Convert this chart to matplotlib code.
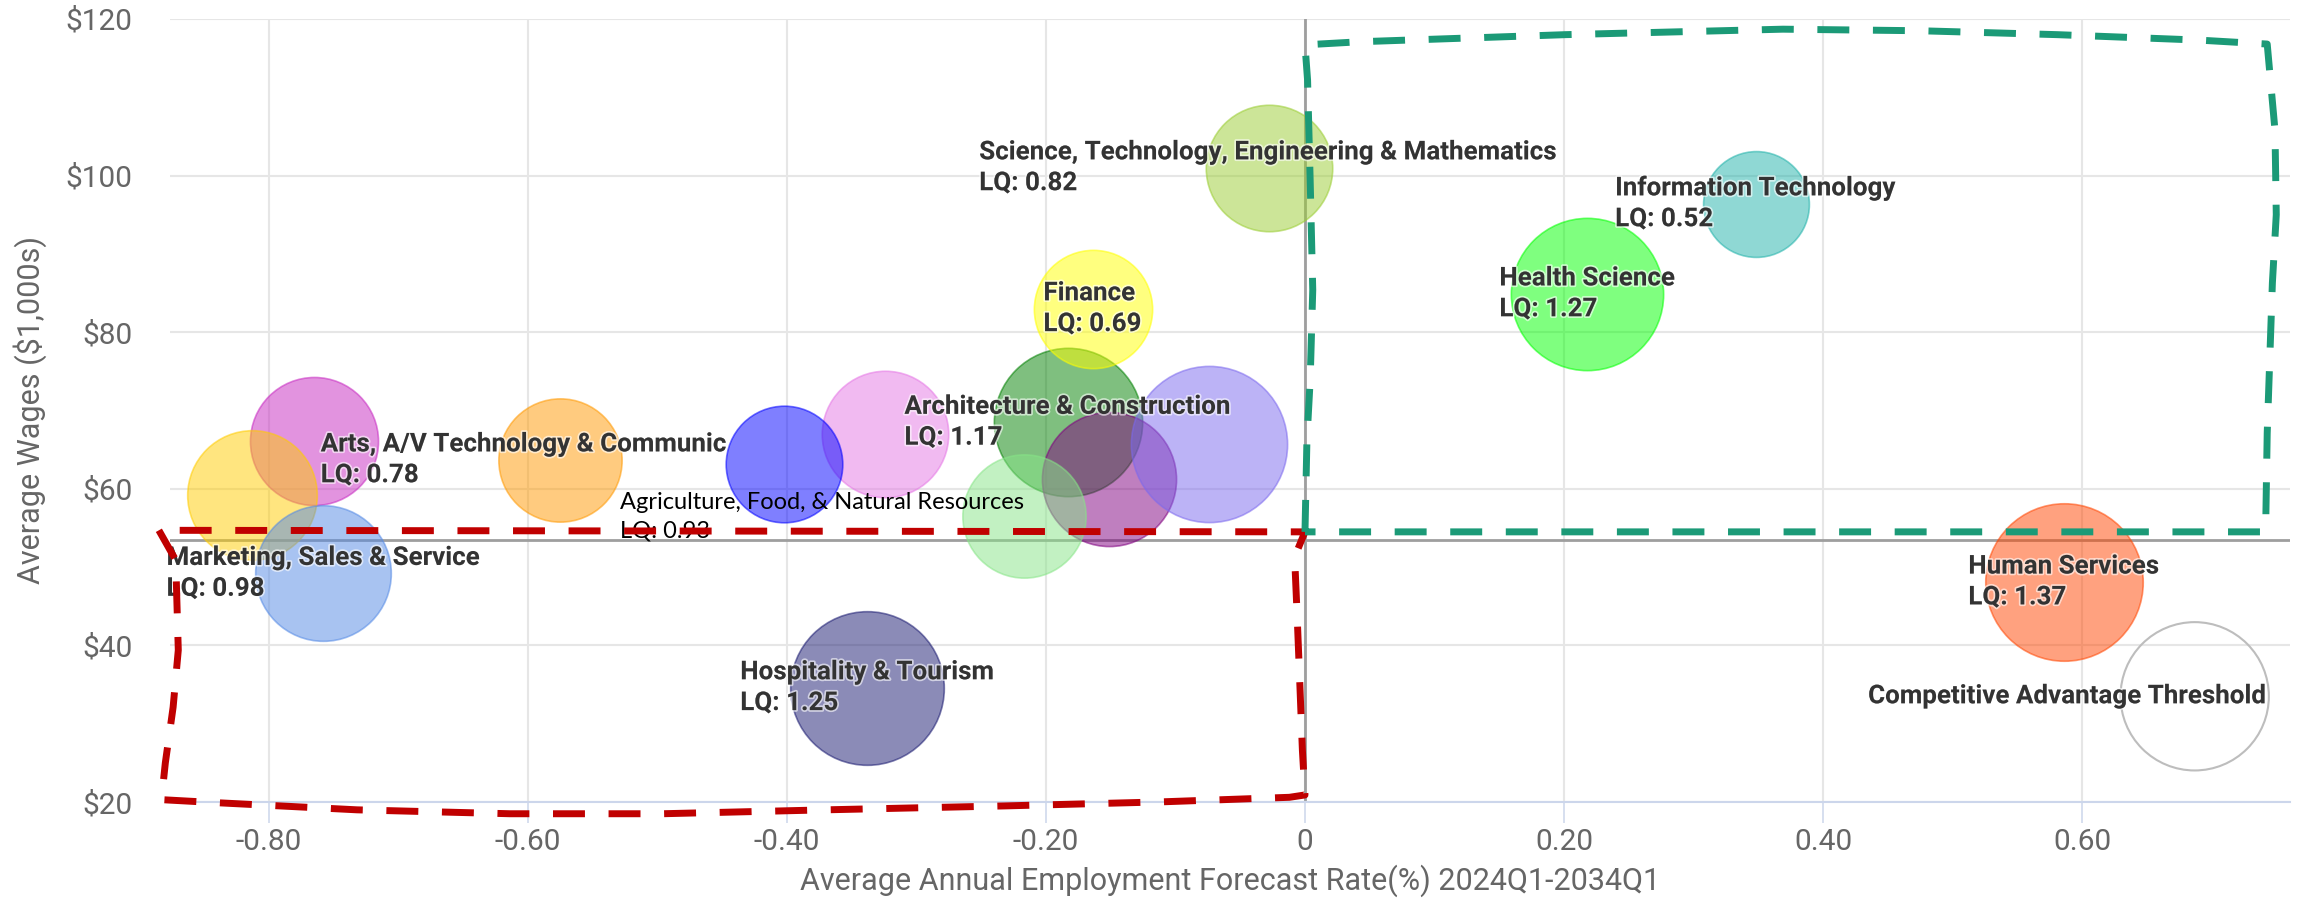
import numpy as np
import matplotlib
matplotlib.use("Agg")
import matplotlib.pyplot as plt
import matplotlib.patheffects as pe
from matplotlib.colors import to_rgba
from matplotlib.patches import Rectangle
from matplotlib.transforms import IdentityTransform

# Bubble data
growth = [-0.765, -0.813, -0.758, -0.575, -0.324, -0.402, -0.183, -0.164,
          -0.151, -0.217, -0.074, -0.028, -0.338, 0.218, 0.348, 0.586, 0.687]
wages = [66.1, 59.2, 49.2, 63.7, 67.0, 63.2, 68.5, 83.0,
         61.3, 56.5, 65.7, 101.0, 34.6, 84.9, 96.4, 48.1, 33.5]
bubble_z = [41, 42, 46, 38, 40, 34, 55, 35, 45, 38, 61, 40, 59, 58, 28, 62, 55]
names = ["", "", "Marketing, Sales & Service",
         "Arts, A/V Technology & Communications", "", "",
         "Architecture & Construction", "Finance", "", "", "",
         "Science, Technology, Engineering & Mathematics",
         "Hospitality & Tourism", "Health Science", "Information Technology",
         "Human Services", "Competitive Advantage Threshold"]
lq = [None, None, 0.98, 0.78, None, None, 1.17, 0.69, None, None, None,
      0.82, 1.25, 1.27, 0.52, 1.37, None]
colors = ["#C729C1", "#FFCC00", "#5389E5", "#FF9900", "#E577E5", "#0000FF",
          "#008000", "#FFFF00", "#800080", "#87E587", "#7B68EE", "#9ACD32",
          "#191970", "#00FF00", "#20B2AA", "#FF4500", None]

# reference lines
avg_wage = 53.46
zero_growth = 0.0

# hand-drawn highlight boxes
red_box_x = [-0.885, -0.872, -0.870, -0.874, -0.880, -0.883, -0.839, -0.732,
             -0.614, -0.496, -0.370, -0.232, -0.114, -0.012, 0.0, -0.002,
             -0.004, -0.006, -0.008, 0.0, -0.885]
red_box_y = [54.7, 50.9, 39.4, 32.1, 25.0, 20.3, 19.9, 19.0, 18.5, 18.5, 19.0,
             19.5, 20.0, 20.6, 20.9, 26.6, 35.2, 43.6, 51.3, 54.5, 54.7]
green_box_x = [0.0, 0.0015, 0.004, 0.006, 0.004, 0.002, 0.0, 0.043, 0.201,
               0.369, 0.475, 0.581, 0.691, 0.743, 0.749, 0.750, 0.747, 0.743,
               0.742, 0.742, 0.0]
green_box_y = [54.5, 66.2, 73.9, 85.4, 99.4, 112.2, 116.7, 117.1, 118.0,
               118.7, 118.5, 118.0, 117.3, 116.8, 105.8, 95.0, 86.3, 67.1,
               56.9, 54.5, 54.5]

agri_text = "Agriculture, Food, & Natural Resources\nLQ: 0.93"
agri_pos = (-0.529, 56.4)

x_ticks = [-0.8, -0.6, -0.4, -0.2, 0.0, 0.2, 0.4, 0.6]
y_ticks = [20, 40, 60, 80, 100, 120]

DPI = 100
fig = plt.figure(figsize=(23.16, 9.06), dpi=DPI)
ax = fig.add_axes([170 / 2316, 104 / 906, 2120 / 2316, 783 / 906])
ax.set_xlim(-0.8764, 0.7606)
ax.set_ylim(20, 120)

ax.set_axisbelow(True)
ax.grid(color="#E6E6E6", lw=1.5)
for s in ["top", "right", "left"]:
    ax.spines[s].set_visible(False)
ax.spines["bottom"].set_color("#CCD6EB")
ax.spines["bottom"].set_linewidth(1.5)

ax.set_xticks(x_ticks)
ax.set_xticklabels(["0" if v == 0 else f"{v:.2f}" for v in x_ticks])
ax.set_yticks(y_ticks)
ax.set_yticklabels([f"\\${v}" for v in y_ticks])
ax.tick_params(axis="x", length=15, width=1.1, color="#CCD6EB", pad=4,
               labelsize=21.5, labelcolor="#666666")
ax.tick_params(axis="y", length=0, pad=27, labelsize=21.5, labelcolor="#666666")
for lab in ax.get_xticklabels() + ax.get_yticklabels():
    lab.set_family("Roboto")

ax.set_xlabel("Average Annual Employment Forecast Rate(%) 2024Q1-2034Q1",
              fontsize=22, color="#666666", family="Roboto", labelpad=6)
ax.set_ylabel("Average Wages (\\$1,000s)", fontsize=22, color="#666666",
              family="Roboto", labelpad=13)

ax.axvline(zero_growth, color="#9E9E9E", lw=2, zorder=1.5)
ax.axhline(avg_wage, color="#9E9E9E", lw=2, zorder=1.5)


def bubble_s(z):
    r_px = 10 * np.sqrt(z)
    return (2 * r_px * 72 / DPI) ** 2


for i in range(len(growth)):
    if colors[i] is None:
        ax.scatter(growth[i], wages[i], s=bubble_s(bubble_z[i]),
                   facecolor="none", edgecolor="#BDBDBD", lw=1.5, zorder=3 + i * 0.01)
    else:
        ax.scatter(growth[i], wages[i], s=bubble_s(bubble_z[i]),
                   facecolor=to_rgba(colors[i], 0.5),
                   edgecolor=to_rgba(colors[i], 0.55), lw=1.2, zorder=3 + i * 0.01)

outline = [pe.withStroke(linewidth=2.5, foreground=(1, 1, 1, 0.6))]
label_artists = {}
for i in range(len(growth)):
    if not names[i]:
        continue
    txt = names[i] if lq[i] is None else f"{names[i]}\nLQ: {lq[i]:.2f}"
    t = ax.text(growth[i], wages[i], txt, ha="center", va="center",
                multialignment="left", fontsize=18.7, fontweight="bold",
                color="#333333", family="Roboto", linespacing=1.36,
                zorder=10, path_effects=outline)
    label_artists[i] = t

ax.text(agri_pos[0], agri_pos[1], agri_text, ha="left", va="center",
        fontsize=17, color="black", family="Lato", linespacing=1.45, zorder=11)

ax.plot(red_box_x, red_box_y, color="#C00000", lw=5, ls=(0, (4.6, 3.4)),
        clip_on=False, zorder=20, solid_joinstyle="miter")
ax.plot(green_box_x, green_box_y, color="#1B9A77", lw=5, ls=(0, (4.6, 3.4)),
        clip_on=False, zorder=20, solid_joinstyle="miter")

fig.canvas.draw()
renderer = fig.canvas.get_renderer()
ax_bb = ax.get_window_extent(renderer)

# keep labels inside the plot on the right (justify)
for i, t in label_artists.items():
    bb = t.get_window_extent(renderer)
    limit = ax_bb.x1 - 23
    if bb.x1 > limit:
        px, py = ax.transData.transform((growth[i], wages[i]))
        nx = ax.transData.inverted().transform((px - (bb.x1 - limit), py))[0]
        t.set_x(nx)

# the Arts label is hidden behind the blue bubble next to it
cover = 5
cx, cy = ax.transData.transform((growth[cover], wages[cover]))
r_cover = 10 * np.sqrt(bubble_z[cover])
clip = Rectangle((0, 0), cx - r_cover, fig.bbox.height, transform=IdentityTransform())
label_artists[3].set_clip_path(clip)
label_artists[3].set_clip_on(True)

fig.savefig("out.png", dpi=DPI)
